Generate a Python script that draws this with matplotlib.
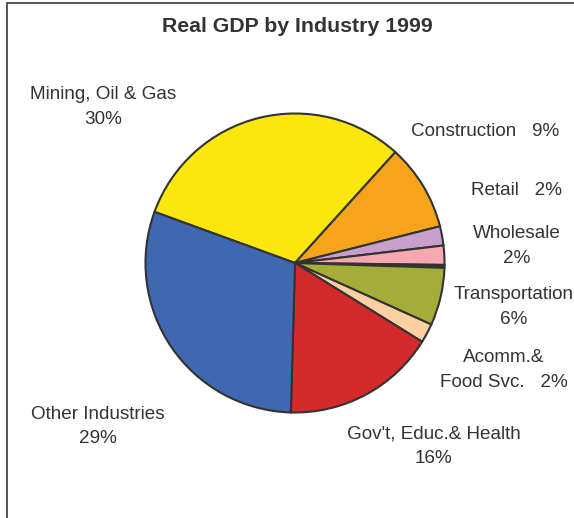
import matplotlib
matplotlib.use("Agg")
from matplotlib import pyplot as plt
from matplotlib.patches import Rectangle

plt.rcParams['font.family'] = ['Liberation Sans', 'DejaVu Sans']

# share of real GDP, percent (clockwise from the top-left)
industries = ["Mining, Oil & Gas", "Construction", "Retail", "Wholesale", "Utilities",
              "Transportation", "Acomm.& Food Svc.", "Gov't, Educ.& Health", "Other Industries"]
shares = [30, 9, 2, 2, 0.3, 6, 2, 16, 29]
colors = ["#FCE60C", "#F7A41D", "#C9A0CC", "#F5A8B0", "#333333",
          "#A4AD37", "#FCD0A0", "#D42A2B", "#3E68B2"]

# label text and where it sits (data units, pie radius = 1)
label_text = ["Mining, Oil & Gas\n30%", "Construction   9%", "Retail   2%", "Wholesale\n2%", None,
              "Transportation\n6%", "Acomm.&\nFood Svc.   2%", "Gov't, Educ.& Health\n16%",
              "Other Industries\n29%"]
label_xy = [(-1.285, 1.043), (1.272, 0.881), (1.483, 0.483), (1.483, 0.115), None,
            (1.46, -0.295), (1.397, -0.715), (0.927, -1.225), (-1.318, -1.093)]

W, H = 574, 518
fig = plt.figure(figsize=(W / 100, H / 100), dpi=100)
fig.patch.set_facecolor("white")

# outer frame, open at the right and bottom
fig.patches.append(Rectangle((6.5 / W, -0.1), 1.2, 1.1 - 3.5 / H, transform=fig.transFigure,
                             fill=False, edgecolor="#555555", linewidth=1.4))

cx, cy, r = 295, 263, 151
ax = fig.add_axes([(cx - r) / W, (H - cy - r) / H, 2 * r / W, 2 * r / H])
ax.pie(shares, colors=colors, startangle=160, counterclock=False,
       wedgeprops=dict(edgecolor="#333333", linewidth=1.5))
ax.set_xlim(-1.01, 1.01)
ax.set_ylim(-1.01, 1.01)
ax.set_aspect("equal")
ax.axis("off")

for txt, xy in zip(label_text, label_xy):
    if txt is None:
        continue
    ax.text(xy[0], xy[1], txt, ha="center", va="center", fontsize=13.6,
            color="#333333", linespacing=1.6, clip_on=False)

fig.text(297 / W, 1 - 27 / H, "Real GDP by Industry 1999", ha="center", va="center",
         fontsize=15.3, fontweight="bold", color="#333333")

plt.savefig("out.png", dpi=100)
